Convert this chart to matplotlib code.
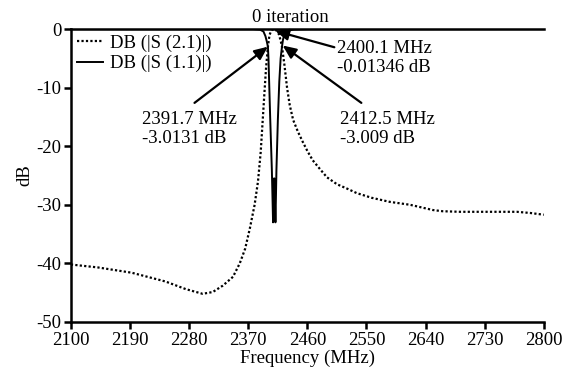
import numpy as np
import matplotlib.pyplot as plt

plt.rcParams['font.family'] = ['Liberation Serif', 'DejaVu Serif']

# --- data ---
# DB(|S(2,1)|), dotted
s21_f = [2100, 2140, 2190, 2240, 2270, 2295, 2310, 2325, 2340, 2350, 2358,
         2365, 2372, 2377, 2381, 2384, 2387, 2389, 2391.7, 2394, 2397,
         2400.1, 2404, 2408, 2411, 2412.5, 2416, 2420, 2424, 2429, 2436,
         2443, 2450, 2458, 2468, 2479, 2494, 2510, 2523, 2545, 2572, 2602,
         2636, 2650, 2676, 2720, 2760, 2780, 2800]
s21_db = [-40.2, -40.7, -41.6, -43.1, -44.4, -45.2, -44.9, -43.8, -42.3, -40.0,
          -37.5, -34.0, -30.0, -26.0, -21.0, -15.5, -10.0, -6.5, -3.0131, -1.0,
          -0.2, -0.01346, -0.2, -0.9, -2.2, -3.009, -6.0, -10.0, -13.0, -15.5,
          -17.5, -19.2, -20.8, -22.4, -23.8, -25.3, -26.5, -27.3, -28.0, -28.8,
          -29.5, -30.0, -30.9, -31.1, -31.2, -31.2, -31.2, -31.4, -31.7]

# DB(|S(1,1)|), solid
s11_f = [2100, 2370, 2380, 2385, 2388, 2390, 2391.7, 2392.5, 2393.5, 2395,
         2397.5, 2398.5, 2399.3, 2400.0, 2400.7, 2401.3, 2402.0, 2402.8,
         2403.5, 2404.3, 2406.4, 2408.5, 2410.5, 2412.5, 2414, 2416, 2420,
         2430, 2450, 2800]
s11_db = [0.0, -0.02, -0.1, -0.4, -1.2, -2.1, -3.0, -5.0, -9.0, -15.0,
          -24.0, -29.0, -33.0, -29.0, -25.5, -25.5, -29.0, -33.0, -29.0,
          -24.0, -15.5, -9.0, -5.0, -3.0, -1.8, -0.9, -0.3, -0.08,
          -0.02, 0.0]

x_ticks_lab = ['2100', '2190', '2280', '2370', '2460', '2550', '2640', '2730', '2800']
y_ticks = [0, -10, -20, -30, -40, -50]

# markers: (label, arrow head, arrow tail, text position)
markers = [
    ('2391.7 MHz\n-3.0131 dB', (2391.7, -3.0), (2283, -12.6), (2206, -14.0)),
    ('2400.1 MHz\n-0.01346 dB', (2402.5, -0.3), (2490, -3.1), (2494, -1.8)),
    ('2412.5 MHz\n-3.009 dB', (2413.5, -2.8), (2530, -12.6), (2498, -14.0)),
]

# --- figure ---
fig = plt.figure(figsize=(5.67, 3.73), dpi=100)
ax = fig.add_axes([0.125, 0.137, 0.834, 0.785])

ax.plot(s21_f, s21_db, color='k', lw=1.6, linestyle=(0, (1, 1)),
        label='DB (|S (2.1)|)')
ax.plot(s11_f, s11_db, color='k', lw=1.4, label='DB (|S (1.1)|)')

ax.set_xlim(2100, 2800)
ax.set_ylim(-50, 0)
ax.set_xticks(np.linspace(2100, 2800, 9))
ax.set_xticklabels(x_ticks_lab)
ax.set_yticks(y_ticks)
ax.set_yticklabels(['%d' % v if v == 0 else '-%d' % -v for v in y_ticks])

ax.spines['right'].set_visible(False)
for s in ['left', 'bottom', 'top']:
    ax.spines[s].set_linewidth(1.8)
ax.tick_params(axis='both', direction='out', length=5, width=1.8,
               labelsize=13.5, pad=2)
ax.tick_params(axis='x', top=False)

ax.set_xlabel('Frequency (MHz)', fontsize=13.5, labelpad=1)
ax.set_ylabel('dB', fontsize=13.5, labelpad=2)

for txt, head, tail, tpos in markers:
    ax.annotate('', xy=head, xytext=tail,
                arrowprops=dict(arrowstyle='-|>,head_length=0.8,head_width=0.35',
                                color='k', lw=1.6, shrinkA=0, shrinkB=0))
    ax.text(tpos[0], tpos[1], txt, fontsize=13.5, ha='left', va='top',
            linespacing=1.15)

ax.text(2425.6, 0.6, '0 iteration', fontsize=13.5, ha='center', va='bottom',
        clip_on=False)

ax.legend(loc='upper left', frameon=False, fontsize=13.5, handlelength=1.4,
          handletextpad=0.4, borderaxespad=0.1, labelspacing=0.15,
          borderpad=0.2)

fig.savefig('out.png', dpi=100)
